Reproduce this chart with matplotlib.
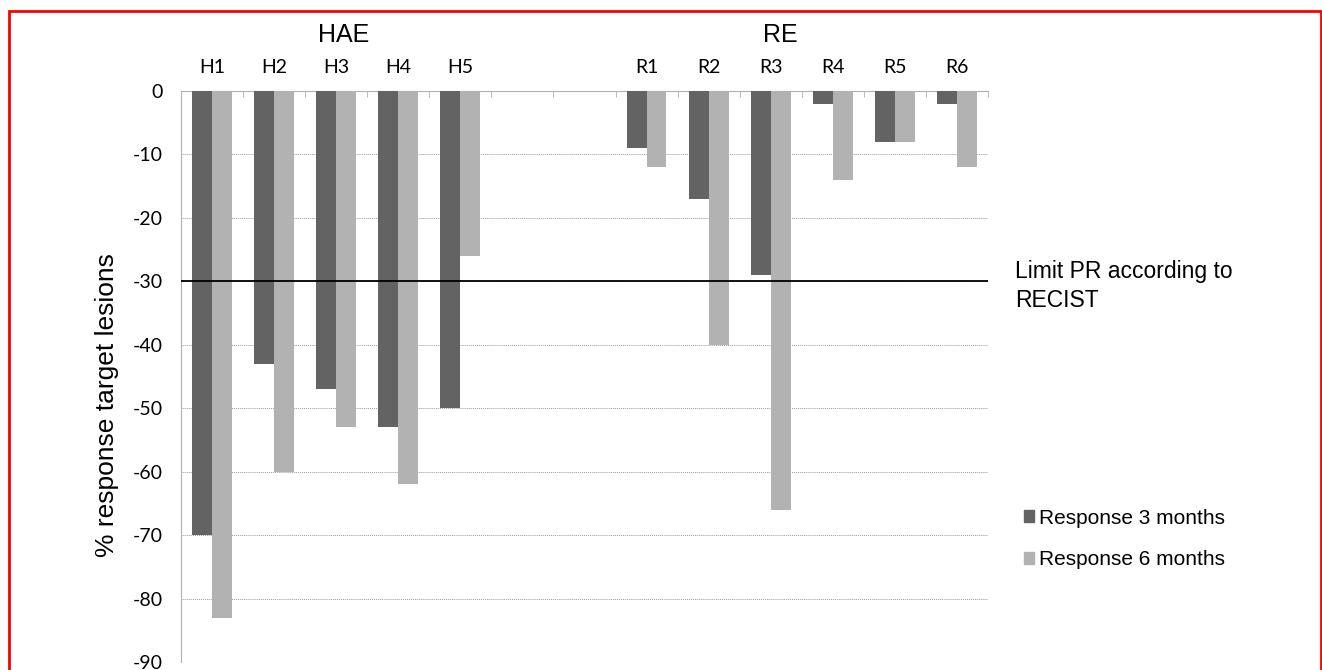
import matplotlib
matplotlib.use('Agg')
import matplotlib.pyplot as plt
from matplotlib.patches import Rectangle, Patch
import numpy as np

# data
categories = ['H1', 'H2', 'H3', 'H4', 'H5', '', '', 'R1', 'R2', 'R3', 'R4', 'R5', 'R6']
resp_3m = [-70, -43, -47, -53, -50, np.nan, np.nan, -9, -17, -29, -2, -8, -2]
resp_6m = [-83, -60, -53, -62, -26, np.nan, np.nan, -12, -40, -66, -14, -8, -12]
recist_limit = -30
yticks = list(range(0, -100, -10))

dark = '#636363'
light = '#b2b2b2'

fig = plt.figure(figsize=(13.22, 6.70), dpi=100)
ax = fig.add_axes([181 / 1322, 1 - 662 / 670, 807 / 1322, 571 / 670])

x = np.arange(len(categories))
w = 0.32
ax.bar(x - w / 2, resp_3m, width=w, color=dark, zorder=3)
ax.bar(x + w / 2, resp_6m, width=w, color=light, zorder=3)

ax.set_xlim(-0.5, len(categories) - 0.5)
ax.set_ylim(-90, 0)
ax.set_yticks(yticks)
ax.set_yticklabels([str(v) for v in yticks], fontfamily='Lato', fontsize=14)
ax.tick_params(axis='y', length=0, pad=13)

# category labels on top, with small ticks between the slots
ax.xaxis.tick_top()
ax.set_xticks(x)
ax.set_xticklabels(categories, fontfamily='Lato', fontsize=14)
ax.set_xticks(np.arange(-0.5, len(categories)), minor=True)
ax.tick_params(axis='x', which='major', length=0, pad=11)
ax.tick_params(axis='x', which='minor', direction='in', length=4, color='#b0b0b0', top=True, bottom=False)

for s in ['bottom', 'right']:
    ax.spines[s].set_visible(False)
ax.spines['top'].set_color('#b0b0b0')
ax.spines['left'].set_color('#b0b0b0')

ax.yaxis.grid(True, linestyle=(0, (1, 1)), color='#9a9a9a', linewidth=0.7, zorder=0)
ax.axhline(recist_limit, color='black', linewidth=1.3, zorder=4)

ax.set_ylabel('% response target lesions', fontfamily='Liberation Sans', fontsize=19)
ax.yaxis.set_label_coords(-0.077, 0.45)

fig.text(344 / 1322, 1 - 35 / 670, 'HAE', fontfamily='Liberation Sans', fontsize=18, ha='center', va='center')
fig.text(780 / 1322, 1 - 35 / 670, 'RE', fontfamily='Liberation Sans', fontsize=18, ha='center', va='center')
fig.text(1015 / 1322, 1 - 286 / 670, 'Limit PR according to\nRECIST', fontfamily='Liberation Sans',
         fontsize=16.5, ha='left', va='center', linespacing=1.35)

handles = [Patch(color=dark), Patch(color=light)]
fig.legend(handles, ['Response 3 months', 'Response 6 months'], loc='center left',
           bbox_to_anchor=(1005 / 1322, 1 - 539 / 670), frameon=False,
           prop={'family': 'Liberation Sans', 'size': 15},
           handlelength=0.5, handleheight=0.5, handletextpad=0.25, labelspacing=1.1)

# red frame around the figure
fig.add_artist(Rectangle((9 / 1322, -0.1), (1321 - 9) / 1322, 1.1 - 11 / 670,
                         transform=fig.transFigure, fill=False, edgecolor='red', linewidth=2))

fig.savefig('out.png', dpi=100)
